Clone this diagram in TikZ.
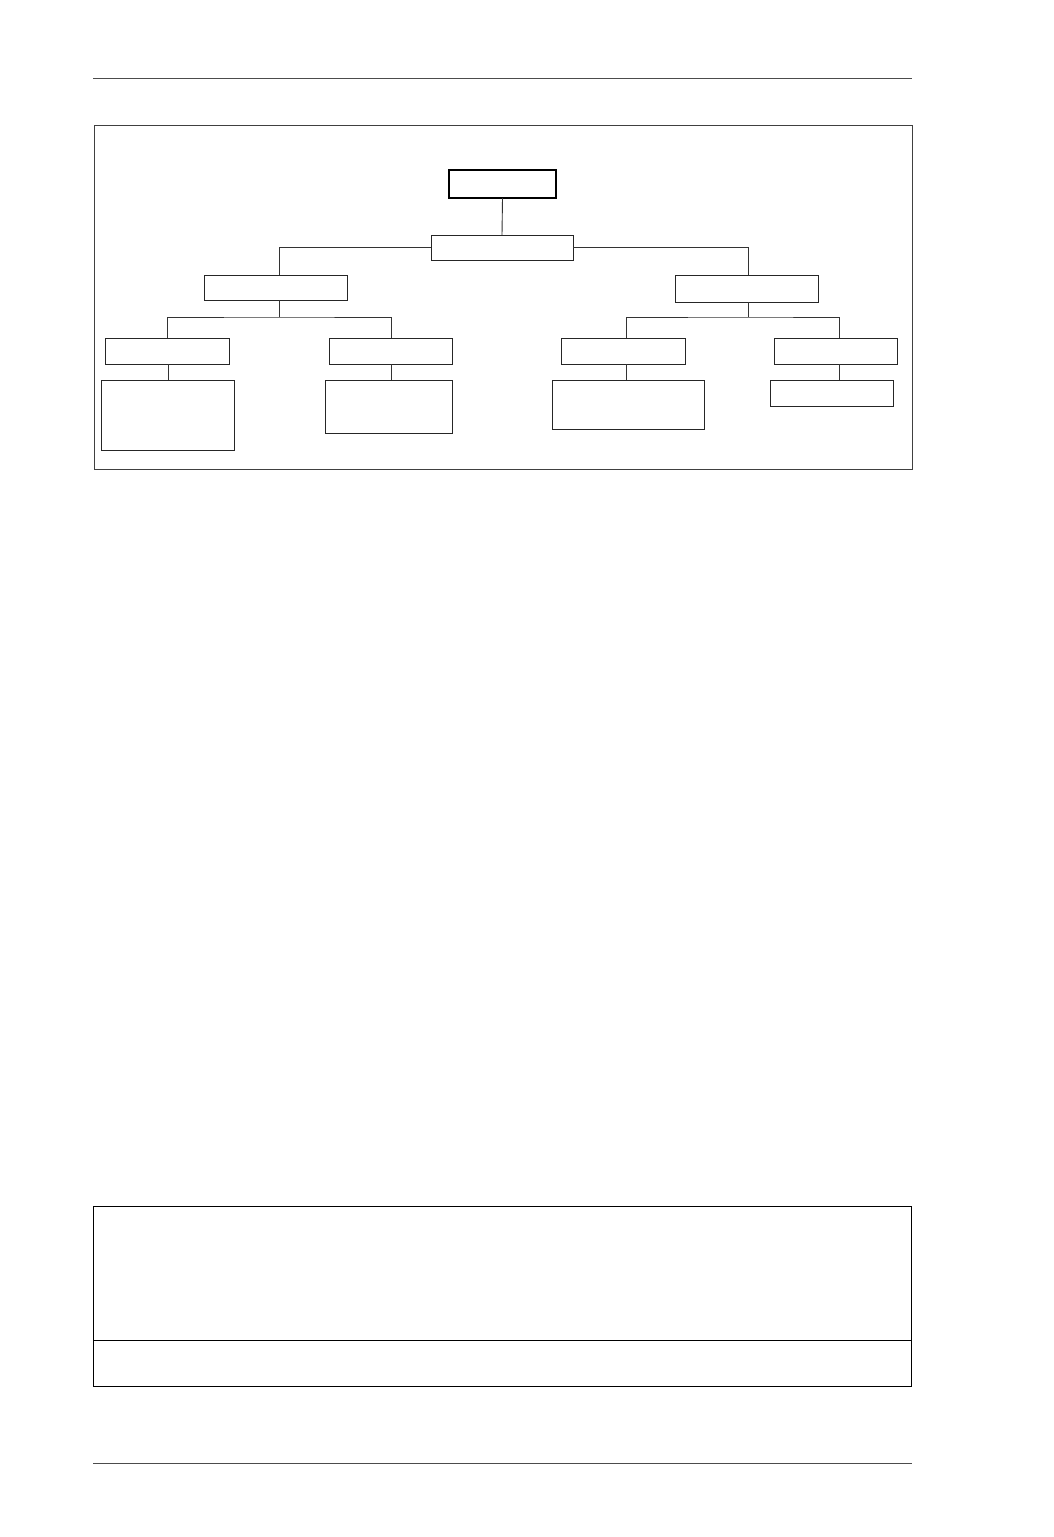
\documentclass[tikz,border=0pt]{standalone}
\begin{document}
\begin{tikzpicture}[x=1pt,y=-1pt,
  box/.style={draw=black!85, inner sep=0pt, outer sep=0pt, line width=0.9pt},
  rootbox/.style={draw=black, inner sep=0pt, outer sep=0pt, line width=2pt},
  conn/.style={draw=black!80, line width=0.9pt},
  frame/.style={draw=black!75, line width=1pt},
  rule/.style={draw=black!70, line width=1pt}]
\useasboundingbox (0,0) rectangle (1053,1537);
% page rules
\coordinate (rtl) at (93,78); \coordinate (rtr) at (912,78);
\draw[rule] (rtl) -- (rtr);
\coordinate (rbl) at (93,1463); \coordinate (rbr) at (912,1463);
\draw[rule] (rbl) -- (rbr);
% outer frame
\node[frame, inner sep=0pt, outer sep=0pt, minimum width=818pt, minimum height=344pt] (fr) at (503,297) {};
% tree nodes
\node[rootbox, minimum width=107pt, minimum height=28pt] (root) at (502.5,184) {};
\node[box, minimum width=142pt, minimum height=25pt] (mid) at (502,247.5) {};
\node[box, minimum width=143pt, minimum height=25pt] (L1) at (275.5,287.5) {};
\node[box, minimum width=143pt, minimum height=27pt] (R1) at (746.5,288.5) {};
\node[box, minimum width=124pt, minimum height=26pt] (LL) at (167,351) {};
\node[box, minimum width=123pt, minimum height=26pt] (LR) at (390.5,351) {};
\node[box, minimum width=124pt, minimum height=26pt] (RL) at (623,351) {};
\node[box, minimum width=123pt, minimum height=26pt] (RR) at (835.5,351) {};
\node[box, minimum width=133pt, minimum height=70pt] (LLc) at (167.5,415) {};
\node[box, minimum width=127pt, minimum height=53pt] (LRc) at (388.5,406.5) {};
\node[box, minimum width=152pt, minimum height=49pt] (RLc) at (628,404.5) {};
\node[box, minimum width=123pt, minimum height=26pt] (RRc) at (831.5,393) {};
% connector attachment points
\coordinate (L1t) at (279,275);  \coordinate (L1b) at (279,300);
\coordinate (R1t) at (748,275);  \coordinate (R1b) at (748,302);
\coordinate (lf) at (279,317);   \coordinate (rf) at (748,317);
\coordinate (LLt) at (167,338);  \coordinate (LRt) at (391,338);
\coordinate (RLt) at (626,338);  \coordinate (RRt) at (839,338);
\coordinate (LLb) at (168,364);  \coordinate (LRb) at (391,364);
\coordinate (RLb) at (626,364);  \coordinate (RRb) at (839,364);
% connectors
\draw[conn] (root.south) -- (mid.north);
\draw[conn] (mid.west) -| (L1t);
\draw[conn] (mid.east) -| (R1t);
\draw[conn] (L1b) -- (lf);
\draw[conn] (LLt) |- (lf) -| (LRt);
\draw[conn] (R1b) -- (rf);
\draw[conn] (RLt) |- (rf) -| (RRt);
\draw[conn] (LLb) -- (LLb |- LLc.north);
\draw[conn] (LRb) -- (LRb |- LRc.north);
\draw[conn] (RLb) -- (RLb |- RLc.north);
\draw[conn] (RRb) -- (RRb |- RRc.north);
% bottom table
\node[box, draw=black, minimum width=818pt, minimum height=180pt] (tab) at (502,1296) {};
\coordinate (dl) at (93,1340); \coordinate (dr) at (911,1340);
\draw[conn, draw=black] (dl) -- (dr);
\end{tikzpicture}
\end{document}
